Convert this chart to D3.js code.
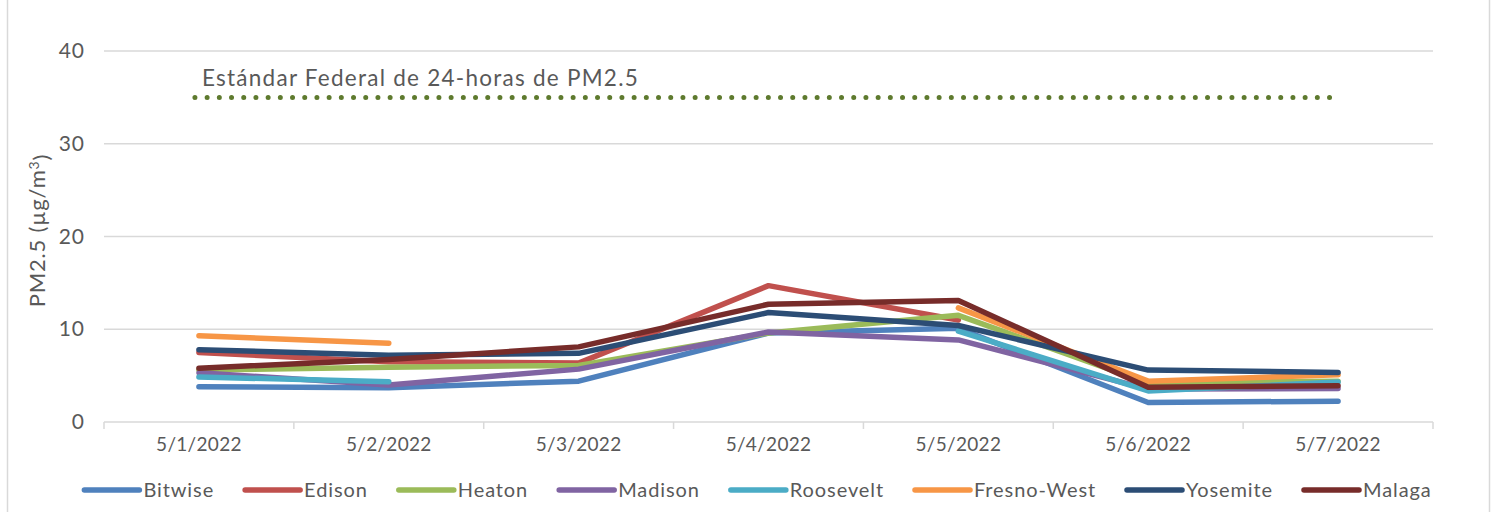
<!DOCTYPE html>
<html>
<head>
<meta charset="utf-8">
<script src="https://cdn.jsdelivr.net/npm/d3@7"></script>
<style>
  html, body { margin: 0; padding: 0; background: #fff; }
  svg { display: block; font-family: Lato, "Open Sans", sans-serif; }
</style>
</head>
<body>
<svg id="chart" width="1493" height="512"></svg>
<script>
// ---- data ----
const categories = ["5/1/2022", "5/2/2022", "5/3/2022", "5/4/2022", "5/5/2022", "5/6/2022", "5/7/2022"];
const seriesNames = ["Bitwise", "Edison", "Heaton", "Madison", "Roosevelt", "Fresno-West", "Yosemite", "Malaga"];
const bitwise    = [3.8, 3.7, 4.4, 9.6, 10.1, 2.1, 2.25];
const edison     = [7.5, 6.5, 6.35, 14.7, 11.0, null, null];
const heaton     = [5.6, 5.9, 6.1, 9.6, 11.5, 4.2, 4.4];
const madison    = [5.3, 4.0, 5.7, 9.7, 8.85, 3.55, 3.6];
const roosevelt  = [4.85, 4.35, null, null, 9.8, 3.35, 4.3];
const fresnoWest = [9.3, 8.5, null, null, 12.3, 4.4, 5.1];
const yosemite   = [7.8, 7.2, 7.4, 11.8, 10.4, 5.6, 5.35];
const malaga     = [5.8, 6.75, 8.1, 12.7, 13.1, 3.75, 3.9];
const federalStandard = [35, 35, 35, 35, 35, 35, 35];
const standardLabel = "Estándar Federal de 24-horas de PM2.5";
const yTicks = [0, 10, 20, 30, 40];
const yTitle = "PM2.5 (µg/m";

const seriesValues = [bitwise, edison, heaton, madison, roosevelt, fresnoWest, yosemite, malaga];
const colors = ["#4F81BD", "#C0504D", "#9BBB59", "#8064A2", "#4BACC6", "#F79646", "#2C4D75", "#772C2A"];

// ---- layout ----
const svg = d3.select("#chart");
const plot = { left: 104, right: 1433, top: 51, bottom: 422 };
const textColor = "#595959";
const gridColor = "#D9D9D9";

// fit a text element's width by letter-spacing
function fitWidth(sel, target) {
  const node = sel.node();
  const w = node.getComputedTextLength();
  const n = node.textContent.length;
  sel.style("letter-spacing", ((target - w) / n) + "px");
}

// outer border
svg.append("rect").attr("x", 7.5).attr("y", -2).attr("width", 1482).attr("height", 520)
  .attr("fill", "none").attr("stroke", gridColor).attr("stroke-width", 1.5);

const x = d3.scaleBand().domain(categories).range([plot.left, plot.right]).padding(0);
const y = d3.scaleLinear().domain([0, 40]).range([plot.bottom, plot.top]);
const cx = c => x(c) + x.bandwidth() / 2;

// gridlines
svg.append("g").selectAll("line").data(yTicks.filter(t => t > 0)).join("line")
  .attr("x1", plot.left).attr("x2", plot.right)
  .attr("y1", d => y(d)).attr("y2", d => y(d))
  .attr("stroke", gridColor).attr("stroke-width", 1.5);

// y axis labels
const yAxis = d3.axisLeft(y).tickValues(yTicks).tickSize(0).tickPadding(0).tickFormat(d3.format("d"));
const gy = svg.append("g").attr("transform", `translate(${plot.left - 20},0)`).call(yAxis);
gy.select(".domain").remove();
gy.selectAll("text").attr("fill", textColor).style("font-size", "21px")
  .style("font-family", "Lato, sans-serif").style("letter-spacing", "1px").attr("dx", "1px");

// x axis
const xAxis = d3.axisBottom(x).tickSize(0).tickPadding(0);
const gx = svg.append("g").attr("transform", `translate(0,${plot.bottom})`).call(xAxis);
gx.select(".domain").attr("stroke", gridColor).attr("stroke-width", 1.5)
  .attr("d", `M${plot.left},0H${plot.right}`);
gx.selectAll("text").attr("fill", textColor).style("font-size", "19px")
  .style("font-family", "Lato, sans-serif").attr("dy", "1.55em").style("letter-spacing", "0.3px");
// tick marks at band boundaries
const bounds = categories.map(c => x(c)).concat([plot.right]);
gx.append("g").selectAll("line").data(bounds).join("line")
  .attr("x1", d => d).attr("x2", d => d).attr("y1", 0).attr("y2", 7)
  .attr("stroke", gridColor).attr("stroke-width", 1.5);

// y axis title
const yt = svg.append("text")
  .attr("transform", `translate(45,${(plot.top + plot.bottom) / 2 - 6}) rotate(-90)`)
  .attr("text-anchor", "middle").attr("fill", textColor).style("font-size", "22px")
  .style("letter-spacing", "0.8px");
yt.append("tspan").text(yTitle);
yt.append("tspan").text("3").attr("dy", "-0.45em").style("font-size", "14px");
yt.append("tspan").text(")").attr("dy", "0.45em");

// federal standard dotted line
const stdLine = d3.line().x((d, i) => cx(categories[i])).y(d => y(d));
svg.append("path").datum(federalStandard).attr("d", stdLine)
  .attr("fill", "none").attr("stroke", "#5E7A2E").attr("stroke-width", 5)
  .attr("stroke-linecap", "round").attr("stroke-dasharray", "0 12.2")
  .attr("transform", "translate(-4,0)");
const stdText = svg.append("text").attr("x", 202).attr("y", 86).attr("fill", textColor)
  .style("font-size", "22.5px").text(standardLabel);
fitWidth(stdText, 437);

// series lines
const line = d3.line()
  .defined(d => d !== null)
  .x((d, i) => cx(categories[i]))
  .y(d => y(d));
svg.append("g").selectAll("path").data(seriesValues).join("path")
  .attr("d", d => line(d))
  .attr("fill", "none")
  .attr("stroke", (d, i) => colors[i])
  .attr("stroke-width", 5.5)
  .attr("stroke-linecap", "round")
  .attr("stroke-linejoin", "round");

// legend
const legend = svg.append("g");
const items = legend.selectAll("g").data(seriesNames).join("g");
items.append("line").attr("x1", 0).attr("x2", 55).attr("y1", 0).attr("y2", 0)
  .attr("stroke", (d, i) => colors[i]).attr("stroke-width", 5.5).attr("stroke-linecap", "round");
items.append("text").attr("x", 59).attr("y", 0).attr("dy", "0.36em")
  .attr("fill", textColor).style("font-size", "20px").style("letter-spacing", "0.9px").text(d => d);
let cursor = 0;
const offs = [];
items.each(function () {
  const w = 59 + this.querySelector("text").getComputedTextLength();
  offs.push(cursor);
  cursor += w + 31;
});
const totalW = cursor - 31;
const startX = 758 - totalW / 2;
items.attr("transform", (d, i) => `translate(${startX + offs[i]},490)`);
</script>
</body>
</html>
